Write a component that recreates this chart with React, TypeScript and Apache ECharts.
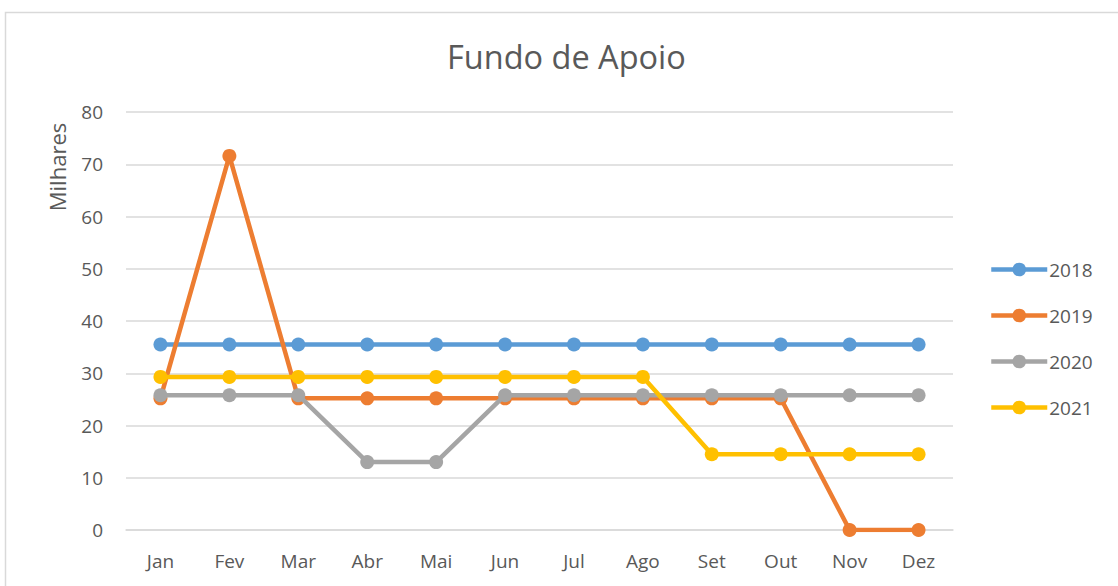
import React, { useEffect, useRef } from "react";
import * as echarts from "echarts";

const months = ["Jan", "Fev", "Mar", "Abr", "Mai", "Jun", "Jul", "Ago", "Set", "Out", "Nov", "Dez"];
const s2018 = [35.5, 35.5, 35.5, 35.5, 35.5, 35.5, 35.5, 35.5, 35.5, 35.5, 35.5, 35.5];
const s2019 = [25.2, 71.6, 25.2, 25.2, 25.2, 25.2, 25.2, 25.2, 25.2, 25.2, 0, 0];
const s2020 = [25.8, 25.8, 25.8, 13.0, 13.0, 25.8, 25.8, 25.8, 25.8, 25.8, 25.8, 25.8];
const s2021 = [29.3, 29.3, 29.3, 29.3, 29.3, 29.3, 29.3, 29.3, 14.5, 14.5, 14.5, 14.5];
const seriesNames = ["2018", "2019", "2020", "2021"];
const colors = ["#5B9BD5", "#ED7D31", "#A5A5A5", "#FFC000"];

export default function App() {
  const ref = useRef<HTMLDivElement>(null);
  useEffect(() => {
    const chart = echarts.init(ref.current!, null, { renderer: "svg" });
    const font = "'Open Sans', 'Noto Sans', sans-serif";
    const data = [s2018, s2019, s2020, s2021];
    chart.setOption({
      animation: false,
      textStyle: { fontFamily: font },
      title: {
        text: "Fundo de Apoio",
        left: 442,
        top: 35,
        textStyle: { fontSize: 32.5, fontWeight: "normal", color: "#595959", fontFamily: font },
      },
      graphic: [
        {
          type: "rect",
          shape: { x: 5.5, y: 12.5, width: 1300, height: 800 },
          style: { fill: "none", stroke: "#d9d9d9", lineWidth: 1.5 },
          silent: true,
        },
        {
          type: "text",
          x: 57,
          y: 167,
          rotation: Math.PI / 2,
          style: {
            text: "Milhares",
            fontSize: 22,
            fill: "#595959",
            fontFamily: font,
            align: "center",
            verticalAlign: "middle",
          },
        },
      ],
      legend: {
        orient: "vertical",
        left: 984,
        top: 255,
        itemWidth: 56,
        itemHeight: 17,
        itemGap: 27,
        lineStyle: { width: 4.5 },
        textStyle: { fontSize: 19, color: "#595959", fontFamily: font, padding: [0, 0, 0, -3] },
        data: seriesNames,
      },
      grid: { left: 126, right: 165, top: 112, bottom: 56, containLabel: false },
      xAxis: {
        type: "category",
        data: months,
        boundaryGap: true,
        axisLine: { show: true, lineStyle: { color: "#d9d9d9", width: 1.5 } },
        axisTick: { show: false },
        axisLabel: { fontSize: 19, color: "#595959", margin: 21, fontFamily: font },
      },
      yAxis: {
        type: "value",
        min: 0,
        max: 80,
        interval: 10,
        axisLine: { show: false },
        axisTick: { show: false },
        axisLabel: { fontSize: 19, color: "#595959", margin: 23, fontFamily: font },
        splitLine: { lineStyle: { color: "#d9d9d9", width: 1.5 } },
      },
      series: seriesNames.map((name, i) => ({
        name,
        type: "line",
        data: data[i],
        symbol: "circle",
        symbolSize: 14,
        z: 2 + i,
        lineStyle: { width: 4.5, color: colors[i] },
        itemStyle: { color: colors[i] },
      })),
    });
    return () => chart.dispose();
  }, []);
  return <div ref={ref} style={{ position: "fixed", left: 0, top: 0, width: 1118, height: 586, background: "#fff" }} />;
}
